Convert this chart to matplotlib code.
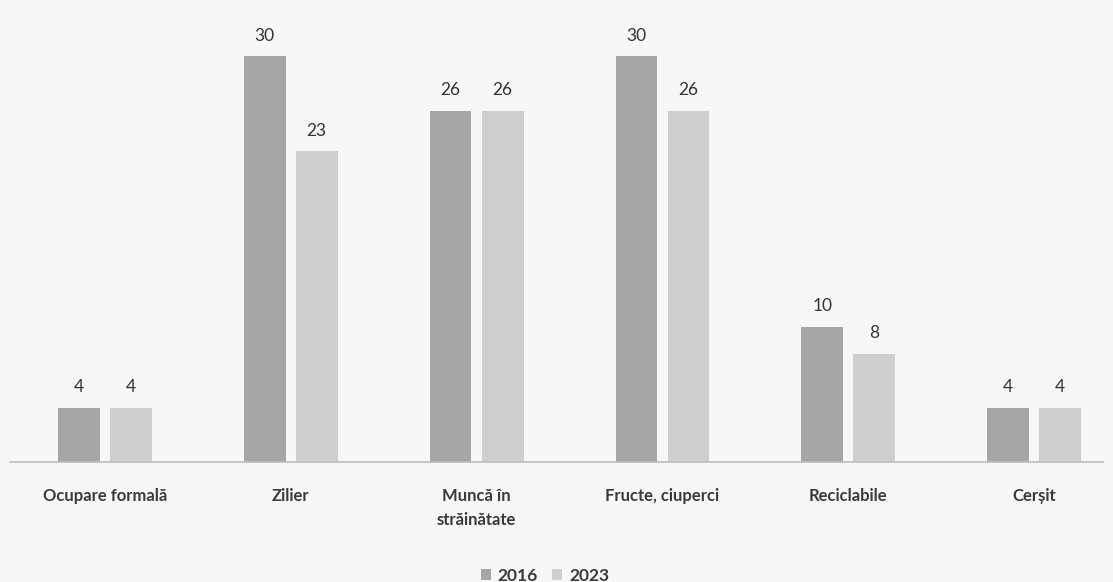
import numpy as np
from matplotlib import pyplot as plt

categories = ['Ocupare formală', 'Zilier', 'Muncă în\nstrăinătate',
              'Fructe, ciuperci', 'Reciclabile', 'Cerșit']
years = ['2016', '2023']
values_2016 = [4, 30, 26, 30, 10, 4]
values_2023 = [4, 23, 26, 26, 8, 4]

plt.rcParams['font.family'] = ['Lato', 'DejaVu Sans']
bg = '#f7f7f7'

fig = plt.figure(figsize=(11.13, 5.82), dpi=100, facecolor=bg)
ax = fig.add_axes([10 / 1113, 120 / 582, 1093 / 1113, 442 / 582])
ax.set_facecolor(bg)

x = np.arange(len(categories))
w = 0.225
off = 0.14
b1 = ax.bar(x - off, values_2016, w, color='#a6a6a6', label=years[0])
b2 = ax.bar(x + off, values_2023, w, color='#cfcfcf', label=years[1])

for bars in (b1, b2):
    ax.bar_label(bars, padding=9, fontsize=12.5, color='#333333')

ax.set_xlim(-0.51, 5.37)
ax.set_ylim(0, 32.7)
ax.set_xticks(x)
ax.set_xticklabels(categories, fontsize=12, fontweight='bold', color='#3a3a3a',
                   linespacing=1.6)
ax.tick_params(axis='x', length=0, pad=19)
ax.set_yticks([])
for s in ['top', 'right', 'left']:
    ax.spines[s].set_visible(False)
ax.spines['bottom'].set_color('#bdbdbd')
ax.spines['bottom'].set_linewidth(1.2)

leg = fig.legend(loc='lower center', bbox_to_anchor=(545 / 1113, -0.03), ncol=2,
                 frameon=False, handlelength=0.6, handleheight=0.6,
                 handletextpad=0.4, columnspacing=0.8, fontsize=12.5)
for t in leg.get_texts():
    t.set_fontweight('bold')
    t.set_color('#3a3a3a')

plt.savefig('out.png', dpi=100, facecolor=bg)
